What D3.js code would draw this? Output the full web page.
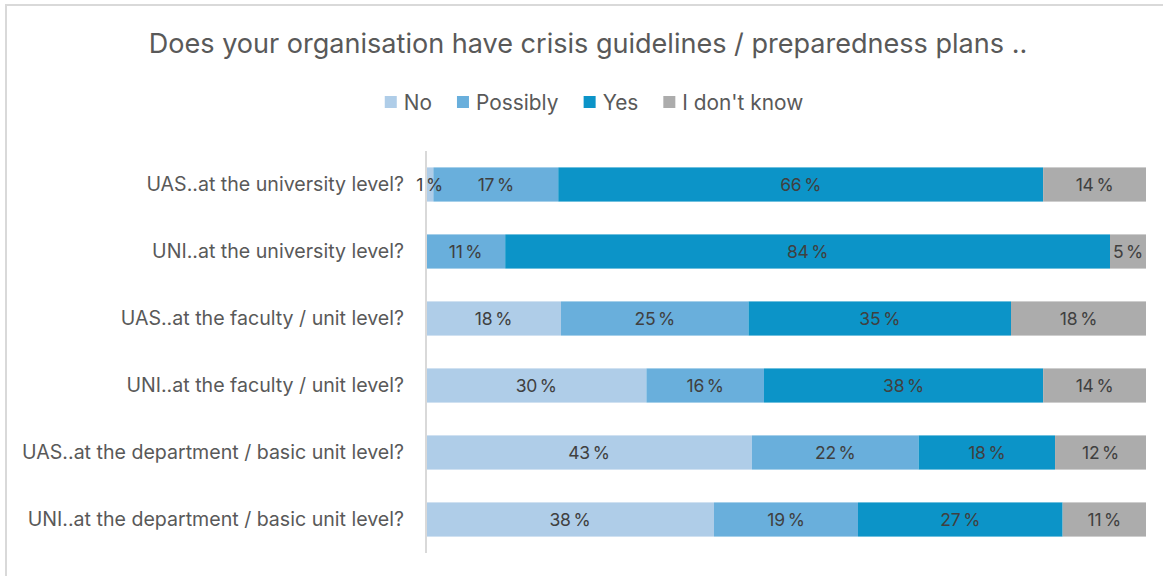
<!DOCTYPE html>
<html>
<head>
<meta charset="utf-8">
<script src="https://cdn.jsdelivr.net/npm/d3@7"></script>
<style>
  html, body { margin: 0; padding: 0; background: #fff; }
  svg { display: block; }
  text { font-family: Inter, "Open Sans", sans-serif; }
</style>
</head>
<body>
<svg id="chart" width="1163" height="576"></svg>
<script>
// Survey answers, per respondent group and organisational level (percent)
const categories = [
  "UAS..at the university level?",
  "UNI..at the university level?",
  "UAS..at the faculty / unit level?",
  "UNI..at the faculty / unit level?",
  "UAS..at the department / basic unit level?",
  "UNI..at the department / basic unit level?"
];
const seriesNames = ["No", "Possibly", "Yes", "I don't know"];
const noValues       = [1, 0, 18, 30, 43, 38];
const possiblyValues = [17, 11, 25, 16, 22, 19];
const yesValues      = [66, 84, 35, 38, 18, 27];
const dontKnowValues = [14, 5, 18, 14, 12, 11];
const colors = ["#afcde8", "#69afdc", "#0c94c8", "#acacac"];

const rows = categories.map((c, i) => ({
  category: c,
  "No": noValues[i],
  "Possibly": possiblyValues[i],
  "Yes": yesValues[i],
  "I don't know": dontKnowValues[i]
}));

const svg = d3.select("#chart");
const W = 1163, H = 576;

// size a font so that a sample string occupies the wanted width
function fittedSize(sample, width, base) {
  const t = svg.append("text").attr("font-size", base).text(sample);
  const w = t.node().getComputedTextLength();
  t.remove();
  return base * width / w;
}
const titleText = "Does your organisation have crisis guidelines / preparedness plans ..";
const titleSize = fittedSize(titleText, 879, 24);
const labelSize = fittedSize("UAS..at the department / basic unit level?", 382, 18);
const legendSize = fittedSize("I don't know", 121, 20);
const valueSize = 17.5;

// outer chart frame
svg.append("rect")
  .attr("x", 6).attr("y", 5)
  .attr("width", W + 10).attr("height", H + 10)
  .attr("fill", "#fff").attr("stroke", "#d9d9d9").attr("stroke-width", 2);

// title
svg.append("text")
  .attr("x", 588).attr("y", 53)
  .attr("text-anchor", "middle")
  .attr("font-size", titleSize)
  .attr("fill", "#595959")
  .text(titleText);

// legend
const legend = svg.append("g").attr("transform", "translate(0,110)");
const legendItems = legend.selectAll("g.item").data(seriesNames).join("g").attr("class", "item");
legendItems.append("rect")
  .attr("y", -14).attr("width", 12).attr("height", 12)
  .attr("fill", (d, i) => colors[i]);
legendItems.append("text")
  .attr("x", 19).attr("y", 0)
  .attr("font-size", legendSize)
  .attr("fill", "#595959")
  .text(d => d);
let lx = 0;
const offsets = [];
legendItems.each(function() {
  offsets.push(lx);
  lx += this.getBBox().width + 25;
});
const legendWidth = lx - 25;
const legendStart = 594 - legendWidth / 2;
legendItems.attr("transform", (d, i) => `translate(${legendStart + offsets[i]},0)`);

// scales
const x = d3.scaleLinear().domain([0, 1]).range([426, 1146]);
const y = d3.scaleBand().domain(categories).range([151, 553])
  .paddingInner(0.49).paddingOuter(0.245);
const color = d3.scaleOrdinal().domain(seriesNames).range(colors);

const stack = d3.stack().keys(seriesNames).offset(d3.stackOffsetExpand);
const series = stack(rows);

const barGroups = svg.append("g").selectAll("g")
  .data(series).join("g")
  .attr("fill", d => color(d.key));

barGroups.selectAll("rect")
  .data(d => d.map(p => ({ p, key: d.key })))
  .join("rect")
  .attr("x", d => x(d.p[0]))
  .attr("y", d => y(d.p.data.category))
  .attr("width", d => x(d.p[1]) - x(d.p[0]))
  .attr("height", y.bandwidth());

// value labels
const labels = svg.append("g");
series.forEach(s => {
  s.forEach(p => {
    const v = p.data[s.key];
    if (!v) return;
    labels.append("text")
      .attr("x", (x(p[0]) + x(p[1])) / 2)
      .attr("y", y(p.data.category) + y.bandwidth() / 2 + 6.5)
      .attr("text-anchor", "middle")
      .attr("font-size", valueSize)
      .attr("word-spacing", -2)
      .attr("letter-spacing", -0.2)
      .attr("fill", "#404040")
      .text(v + " %");
  });
});

// category axis
const yAxis = svg.append("g")
  .attr("transform", "translate(426,0)")
  .call(d3.axisLeft(y).tickSize(0).tickPadding(22));
yAxis.select(".domain").attr("stroke", "#d9d9d9").attr("stroke-width", 2)
  .attr("d", "M0,151V553");
yAxis.selectAll(".tick text")
  .attr("font-size", labelSize)
  .attr("fill", "#595959")
  .attr("font-family", "Inter, \"Open Sans\", sans-serif");
</script>
</body>
</html>
